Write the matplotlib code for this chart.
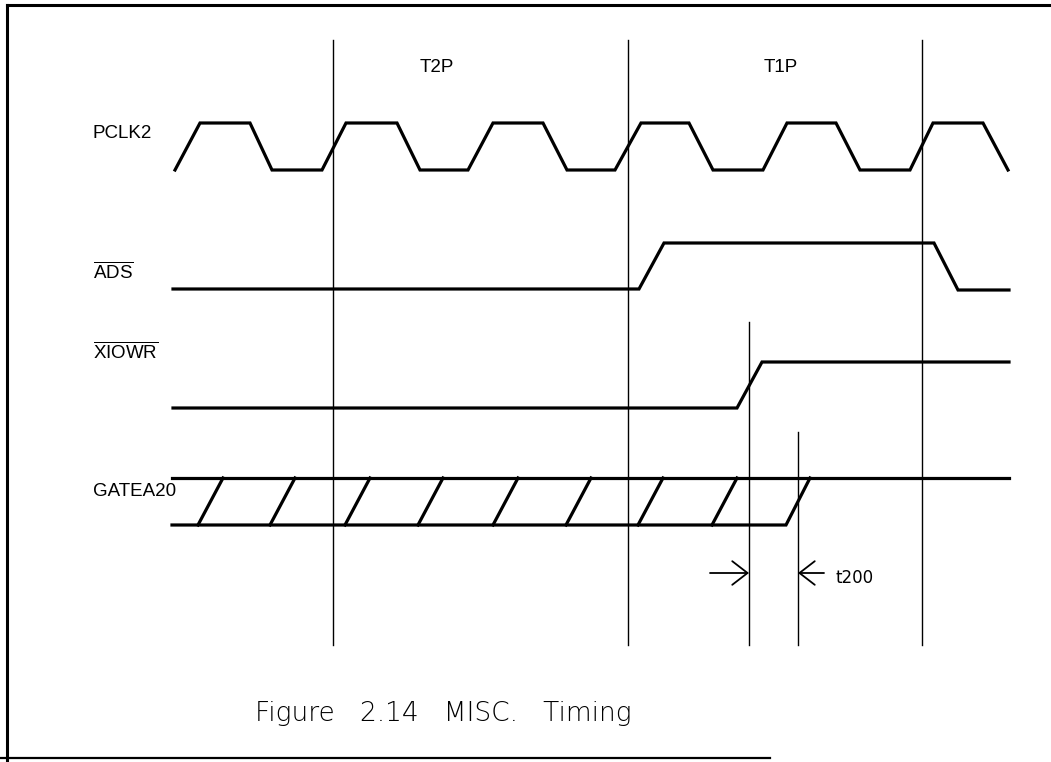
import matplotlib
matplotlib.use("Agg")
import matplotlib.pyplot as plt

plt.rcParams['mathtext.fontset'] = 'custom'
plt.rcParams['mathtext.rm'] = 'Liberation Sans'

# ---- data (time axis in drawing units, level in drawing units) ----
signal_names = ["PCLK2", "ADS", "XIOWR", "GATEA20"]
period_labels = ["T2P", "T1P"]
period_label_x = [437, 781]

pclk_t = [175, 200, 250, 272, 322, 346, 397, 420, 468, 493, 543, 567,
          615, 641, 689, 713, 763, 787, 836, 860, 910, 933, 983, 1008]
pclk_v = [170, 123, 123, 170, 170, 123, 123, 170, 170, 123, 123, 170,
          170, 123, 123, 170, 170, 123, 123, 170, 170, 123, 123, 170]

ads_t = [173, 639, 664, 934, 958, 1009]
ads_v = [289, 289, 243, 243, 290, 290]

xiowr_t = [173, 737, 762, 1009]
xiowr_v = [408, 408, 362, 362]

gate_top_t = [172, 1009]
gate_top_v = [478, 478]
gate_bot_t = [172, 786, 810]
gate_bot_v = [525, 525, 478]
gate_slash_start = [198, 270, 345, 418, 493, 566, 638, 712]
gate_slash_rise = 25

clock_marks_t = [333, 628, 922]
edge_marks_t = [749, 798]
edge_marks_top = [322, 432]
mark_bottom = 645

t200_label = "t200"
caption = "Figure   2.14   MISC.   Timing"

# ---- figure ----
fig = plt.figure(figsize=(10.51, 7.62), dpi=100)
ax = fig.add_axes([0, 0, 1, 1])
ax.set_xlim(0, 1051)
ax.set_ylim(762, 0)
ax.axis('off')

K = 'black'
wave_lw = 2.3

# frame (left, top, bottom)
ax.plot([7, 7], [5, 762], color=K, lw=2.2)
ax.plot([7, 1051], [5, 5], color=K, lw=2.2)
ax.plot([0, 770], [758, 758], color=K, lw=1.6)

# vertical timing marks
for x in clock_marks_t:
    ax.plot([x, x], [40, mark_bottom], color=K, lw=1.0)
for x, top in zip(edge_marks_t, edge_marks_top):
    ax.plot([x, x], [top, mark_bottom], color=K, lw=1.0)

# waveforms
ax.plot(pclk_t, pclk_v, color=K, lw=wave_lw, solid_joinstyle='miter')
ax.plot(ads_t, ads_v, color=K, lw=wave_lw, solid_joinstyle='miter')
ax.plot(xiowr_t, xiowr_v, color=K, lw=wave_lw, solid_joinstyle='miter')
ax.plot(gate_top_t, gate_top_v, color=K, lw=wave_lw)
ax.plot(gate_bot_t, gate_bot_v, color=K, lw=wave_lw, solid_joinstyle='miter')
for s in gate_slash_start:
    ax.plot([s, s + gate_slash_rise], [gate_bot_v[0], gate_top_v[0]],
            color=K, lw=wave_lw)

# labels
lab_font = dict(family='Liberation Sans', fontsize=13.5, color=K,
                ha='left', va='center')
ax.text(93, 133, signal_names[0], **lab_font)
ax.text(93, 272, r'$\overline{\mathrm{ADS}}$', **lab_font)
ax.text(93, 352, r'$\overline{\mathrm{XIOWR}}$', **lab_font)
ax.text(93, 492, signal_names[3], **lab_font)

for lbl, x in zip(period_labels, period_label_x):
    ax.text(x, 67, lbl, family='Liberation Sans', fontsize=13.5, color=K,
            ha='center', va='center')

# t200 arrows
astyle = '->,head_length=1.1,head_width=0.85'
ax.annotate('', xy=(edge_marks_t[0], 573), xytext=(710, 573),
            arrowprops=dict(arrowstyle=astyle, lw=1.3, color=K,
                            shrinkA=0, shrinkB=0))
ax.annotate('', xy=(edge_marks_t[1], 573), xytext=(824, 573),
            arrowprops=dict(arrowstyle=astyle, lw=1.3, color=K,
                            shrinkA=0, shrinkB=0))
ax.text(835, 578, t200_label, family='DejaVu Sans', fontsize=12,
        color=K, ha='left', va='center')

# caption
ax.text(255, 713, caption, family='DejaVu Sans', fontsize=19, color=K,
        ha='left', va='center', fontweight='light')

fig.savefig('out.png', dpi=100, facecolor='white')
